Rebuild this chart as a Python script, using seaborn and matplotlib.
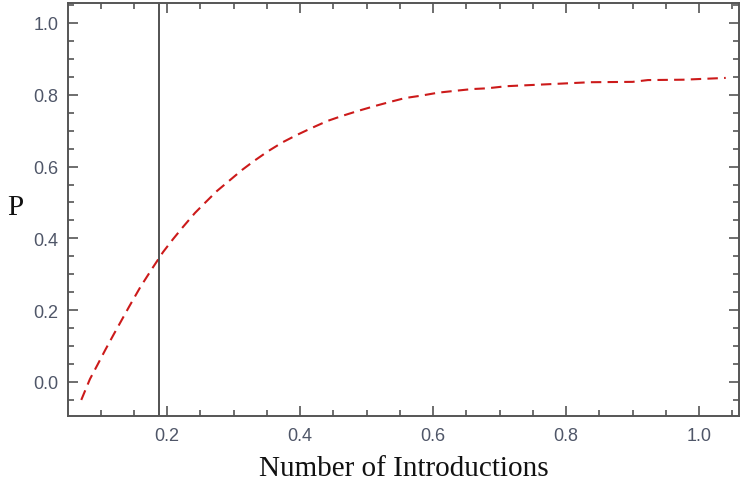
import numpy as np
import pandas as pd
import seaborn as sns
import matplotlib.pyplot as plt
from matplotlib.ticker import MultipleLocator

# values
introductions = [0.071, 0.084, 0.096, 0.107, 0.119, 0.131, 0.143, 0.160, 0.179, 0.194,
                 0.209, 0.224, 0.242, 0.257, 0.275, 0.295, 0.313, 0.331, 0.352, 0.374,
                 0.395, 0.418, 0.441, 0.463, 0.487, 0.513, 0.535, 0.558, 0.580, 0.608,
                 0.633, 0.659, 0.681, 0.711, 0.780, 0.836, 0.900, 0.923, 0.976, 1.040]
prob = [-0.050, 0.008, 0.050, 0.089, 0.130, 0.170, 0.210, 0.265, 0.320, 0.362,
        0.398, 0.432, 0.471, 0.499, 0.532, 0.563, 0.591, 0.616, 0.643, 0.668,
        0.688, 0.708, 0.727, 0.741, 0.755, 0.769, 0.780, 0.791, 0.797, 0.806,
        0.811, 0.816, 0.818, 0.824, 0.830, 0.835, 0.836, 0.841, 0.842, 0.847]
threshold = 0.188

df = pd.DataFrame({"introductions": introductions, "P": prob})

sns.set_style("ticks")
plt.rcParams['font.family'] = ['Liberation Sans', 'DejaVu Sans']

fig = plt.figure(figsize=(7.42, 4.85), dpi=100)
ax = fig.add_axes([0.0916, 0.140, 0.9044, 0.852])

sns.lineplot(data=df, x="introductions", y="P", ax=ax, color="#cc1a1a",
             lw=1.5, linestyle=(0, (5, 3)), sort=False)
ax.axvline(threshold, color="#444444", lw=1.3)

ax.set_xlim(0.051, 1.060)
ax.set_ylim(-0.095, 1.056)
ax.xaxis.set_major_locator(MultipleLocator(0.2))
ax.xaxis.set_minor_locator(MultipleLocator(0.05))
ax.yaxis.set_major_locator(MultipleLocator(0.2))
ax.yaxis.set_minor_locator(MultipleLocator(0.05))
ax.xaxis.set_major_formatter(plt.FuncFormatter(lambda v, p: f"{v:.1f}"))
ax.yaxis.set_major_formatter(plt.FuncFormatter(lambda v, p: f"{v:.1f}"))

ax.tick_params(which="both", direction="in", top=True, right=True,
               color="#555555", labelcolor="#4f5668", labelsize=13)
ax.tick_params(axis="y", pad=7)
ax.tick_params(axis="x", pad=8)
ax.tick_params(which="major", length=7, width=1.2)
ax.tick_params(which="minor", length=4.5, width=1.2)
for s in ax.spines.values():
    s.set_color("#555555")
    s.set_linewidth(1.4)

ax.set_xlabel("Number of Introductions", family="Liberation Serif", fontsize=21,
              color="#111111", labelpad=8)
ax.set_ylabel("P", family="Liberation Serif", fontsize=21, color="#111111",
              rotation=0, labelpad=12)
ax.yaxis.set_label_coords(-0.078, 0.475)

fig.savefig("out.png", dpi=100)
